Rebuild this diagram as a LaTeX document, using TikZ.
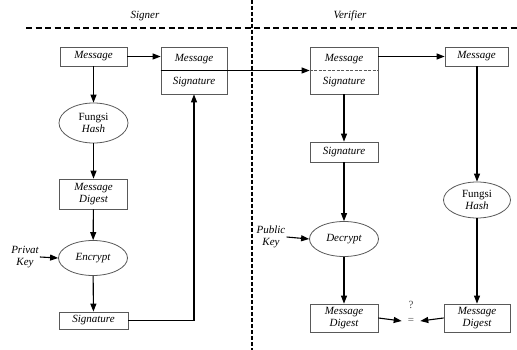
\documentclass[tikz,border=0pt]{standalone}
\usepackage{fontspec}
\setmainfont{Liberation Serif}
\usetikzlibrary{arrows.meta,shapes.geometric}
\begin{document}
\begin{tikzpicture}[x=1pt,y=-1pt,
  every node/.style={font=\fontsize{11}{12.5}\selectfont\itshape, inner sep=0pt, align=center},
  box/.style={draw=black!65, line width=0.8pt, rectangle, minimum width=#1},
  box/.default=68,
  oval/.style={draw=black!65, line width=0.8pt, ellipse, minimum width=69, minimum height=#1},
  oval/.default=36,
  arr/.style={line width=1.1pt, -{Triangle[length=8pt,width=6pt]}},
  ln/.style={line width=1.1pt},
  sep/.style={line width=1.3pt, dash pattern=on 6pt off 3.5pt},
  vsep/.style={line width=1.3pt, dash pattern=on 4pt off 2pt}]
\useasboundingbox (0,0) rectangle (517,350);
% titles and separators
\node (signer) at (145,16) {Signer};
\node (verifier) at (350,16) {Verifier};
\draw[sep] (26,28) -- (517,28);
\draw[vsep] (252,0) -- (252,350);
% signer side
\node[box=67, minimum height=19] (lmsg) at (93.5,56.5) {Message};
\node[box=66, minimum height=47] (sbox) at (194,70.5) {};
\node (sm) at (194,59) {Message};
\node (ss) at (194,82.5) {Signature};
\draw[ln] (sbox.west) -- (sbox.east);
\node[oval=40] (lhash) at (93.5,123) {\upshape Fungsi\\Hash};
\node[box, minimum height=30] (ldig) at (93.5,194) {Message\\Digest};
\node[oval=35] (lenc) at (93,258) {Encrypt};
\node (privat) at (25,257) {Privat\\Key};
\node[box=69, minimum height=17] (lsig) at (93.5,320.5) {Signature};
\draw[arr] (lmsg) -- (sbox.west |- lmsg);
\draw[arr] (lmsg) -- (lhash);
\draw[arr] (lhash) -- (ldig);
\draw[arr] (ldig) -- (lenc);
\draw[arr] (privat.east) ++(1,0) -- (lenc.west);
\draw[arr] (lenc) -- (lsig);
\draw[arr] (lsig.east) -| (sbox.south);
% verifier side
\node[box, minimum height=47] (vbox) at (344,70.5) {};
\node (vm) at (344,59) {Message};
\node (vs) at (344,82.5) {Signature};
\draw[line width=0.8pt, black!65, dash pattern=on 3pt off 1.5pt] (vbox.west) -- (vbox.east);
\draw[arr] (sbox.west) -- (vbox.west);
\node[box=63, minimum height=19] (rmsg) at (476.5,56.5) {Message};
\draw[arr] (vbox.east |- rmsg) -- (rmsg);
\node[box, minimum height=20] (vsig) at (344,152) {Signature};
\node[oval=35] (vdec) at (344,239) {Decrypt};
\node (public) at (271,237) {Public\\Key};
\node[box, minimum height=28] (vdig) at (344,318) {Message\\Digest};
\node[oval=36, minimum width=67] (rhash) at (477,200) {\upshape Fungsi\\Hash};
\node[box=66, minimum height=28] (rdig) at (477,318) {Message\\Digest};
\node[text=black!70] (q) at (411,305) {\upshape ?};
\node[text=black!70] (eq) at (411,321) {\upshape =};
\draw[arr] (vbox) -- (vsig);
\draw[arr] (vsig) -- (vdec);
\draw[arr] (public.east) ++(1,0) -- (vdec.west);
\draw[arr] (vdec) -- (vdig);
\draw[arr] (rmsg.south -| rhash) -- (rhash);
\draw[arr] (rhash) -- (rdig);
\draw[arr] (vdig.east) -- ([xshift=-6pt]eq.west);
\draw[arr] (rdig.west) -- ([xshift=6pt]eq.east);
\end{tikzpicture}
\end{document}
